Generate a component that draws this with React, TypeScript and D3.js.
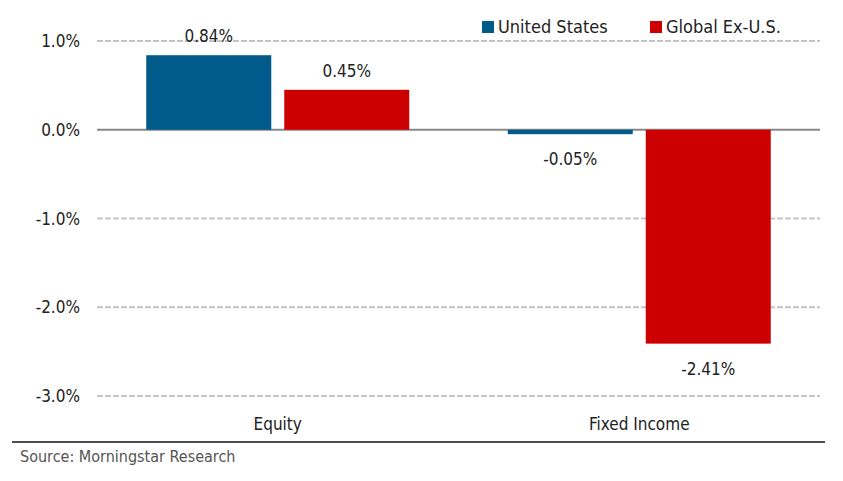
import React from "react";
import * as d3 from "d3";

const categories = ["Equity", "Fixed Income"];
const seriesNames = ["United States", "Global Ex-U.S."];
const usValues = [0.84, -0.05];
const globalValues = [0.45, -2.41];
const yTicks = [1, 0, -1, -2, -3];
const colors = ["#005b8a", "#cc0000"];
const sourceText = "Source: Morningstar Research";

const W = 843;
const H = 481;
const FONT = "'Liberation Sans Narrow', 'DejaVu Sans Condensed', 'Roboto', sans-serif";

const hy = (s: string) => s.replace("\u2212", "-");

export default function App() {
  const x0 = d3
    .scaleBand<string>()
    .domain(categories)
    .range([97, 820])
    .paddingInner(0.2725)
    .paddingOuter(0.13625);
  const x1 = d3
    .scaleBand<string>()
    .domain(seriesNames)
    .range([0, x0.bandwidth()])
    .paddingInner(0.0942)
    .paddingOuter(0);
  const y = d3.scaleLinear().domain([-3, 1]).range([396, 41]);
  const fmt = (v: number) => hy(d3.format(".1f")(v)) + "%";
  const series = [usValues, globalValues];

  return (
    <svg width={W} height={H} style={{ position: "absolute", left: 0, top: 0, fontFamily: FONT }}>
      <rect width={W} height={H} fill="#fff" />
      {yTicks.map((t) => (
        <g key={t}>
          <line
            x1={97}
            x2={820}
            y1={y(t)}
            y2={y(t)}
            stroke={t === 0 ? "#888" : "#c4c4c4"}
            strokeWidth={2}
            strokeDasharray={t === 0 ? undefined : "6,2"}
          />
          <text x={80} y={y(t) + 6} textAnchor="end" fontSize={17} fill="#222">
            {fmt(t)}
          </text>
        </g>
      ))}
      {categories.map((c, ci) => (
        <g key={c} transform={`translate(${x0(c)},0)`}>
          {seriesNames.map((s, si) => {
            const v = series[si][ci];
            const top = v >= 0 ? y(v) : y(0);
            const h = Math.abs(y(v) - y(0));
            const bx = x1(s)!;
            const cx = bx + x1.bandwidth() / 2;
            return (
              <g key={s}>
                <rect x={bx} y={top} width={x1.bandwidth()} height={h} fill={colors[si]} />
                <text
                  x={cx}
                  y={v >= 0 ? y(v) - 13 : y(v) + 31}
                  textAnchor="middle"
                  fontSize={17}
                  fill="#222"
                >
                  {hy(d3.format(".2f")(v)) + "%"}
                </text>
              </g>
            );
          })}
          <text x={x0.bandwidth() / 2} y={430} textAnchor="middle" fontSize={17} fill="#222">
            {c}
          </text>
        </g>
      ))}
      {seriesNames.map((s, i) => {
        const lx = [482, 650][i];
        return (
          <g key={s}>
            <rect x={lx} y={21} width={12} height={12} fill={colors[i]} />
            <text x={lx + 16} y={33} fontSize={18} fill="#222">
              {s}
            </text>
          </g>
        );
      })}
      <line x1={12} x2={825} y1={442} y2={442} stroke="#111" strokeWidth={1.5} />
      <text x={20} y={462} fontSize={16} fill="#555">
        {sourceText}
      </text>
    </svg>
  );
}
